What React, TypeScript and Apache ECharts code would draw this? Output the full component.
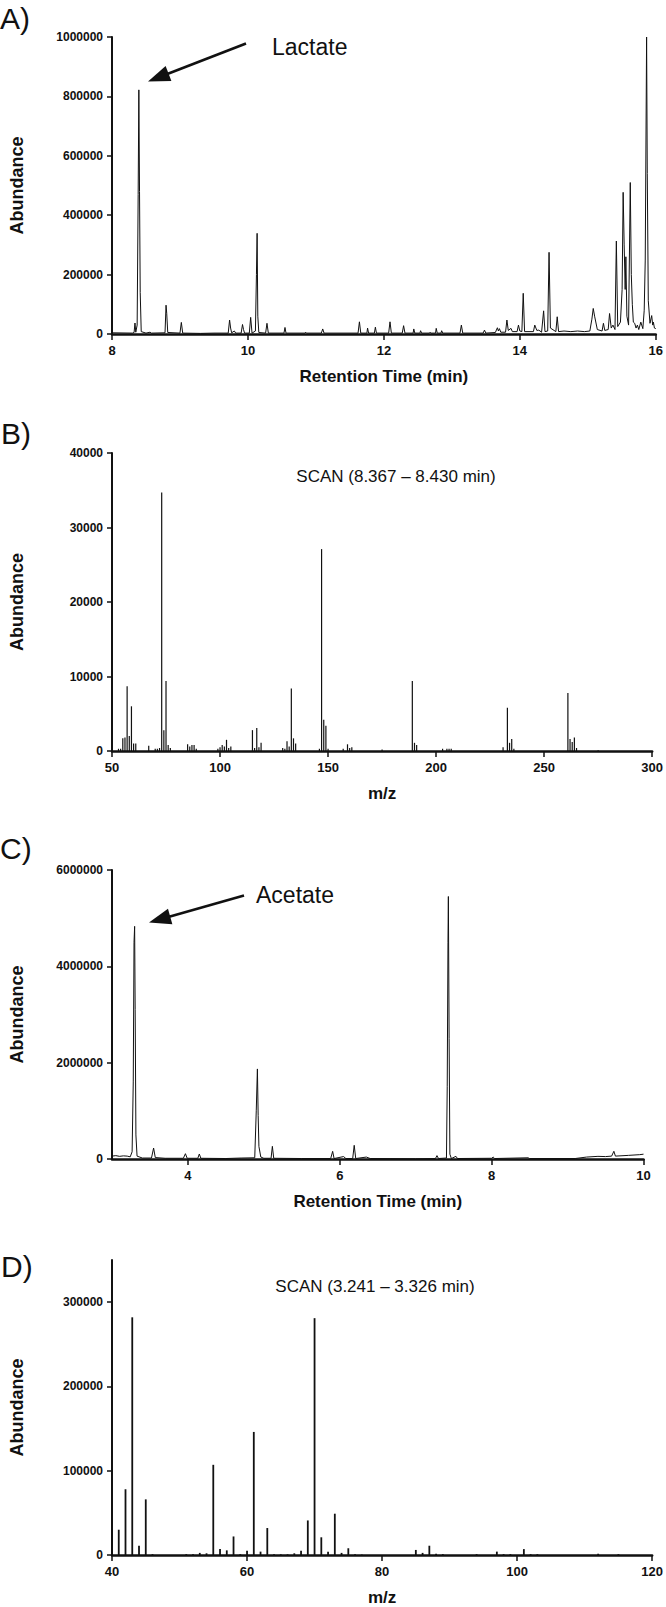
import React, { useEffect, useRef } from "react";
import * as echarts from "echarts";

// ---------- DATA ----------
// Panel A: total ion chromatogram (retention time min, abundance)
const chromA: [number, number][] = [
  [8.0, 4000], [8.3, 3000], [8.325, 5000], [8.338, 37000], [8.35, 6000], [8.37, 30000],
  [8.385, 470000], [8.395, 822000], [8.405, 480000], [8.415, 140000], [8.43, 8000],
  [8.5, 3000], [8.56, 6000], [8.58, 3000], [8.78, 4000], [8.795, 97000], [8.805, 70000],
  [8.82, 5000], [9.0, 3000], [9.02, 39000], [9.04, 3000], [9.3, 2000], [9.5, 3000],
  [9.71, 3000], [9.73, 47000], [9.745, 20000], [9.76, 4000], [9.8, 10000], [9.82, 3000],
  [9.9, 3000], [9.92, 32000], [9.935, 15000], [9.95, 3000], [10.02, 3000], [10.04, 56000],
  [10.06, 3000], [10.11, 10000], [10.125, 200000], [10.135, 339000], [10.145, 60000],
  [10.16, 5000], [10.26, 3000], [10.28, 36000], [10.3, 3000], [10.53, 3000], [10.545, 22000],
  [10.56, 3000], [10.84, 3000], [10.85, 6000], [10.86, 3000], [11.08, 3000], [11.1, 17000],
  [11.12, 3000], [11.62, 3000], [11.64, 41000], [11.66, 3000], [11.75, 3000], [11.76, 20000],
  [11.775, 3000], [11.86, 3000], [11.875, 23000], [11.89, 3000], [12.07, 3000], [12.09, 41000],
  [12.11, 3000], [12.27, 3000], [12.29, 28000], [12.31, 3000], [12.43, 3000], [12.44, 17000],
  [12.455, 3000], [12.53, 3000], [12.54, 11000], [12.555, 3000], [12.67, 3000], [12.68, 6000],
  [12.69, 3000], [12.76, 3000], [12.77, 19000], [12.785, 3000], [12.84, 3000], [12.85, 11000],
  [12.865, 3000], [13.12, 3000], [13.14, 30000], [13.16, 3000], [13.46, 3000], [13.48, 13000],
  [13.5, 3000], [13.64, 5000], [13.67, 21000], [13.685, 10000], [13.7, 18000], [13.72, 6000],
  [13.79, 6000], [13.81, 47000], [13.83, 12000], [13.87, 19000], [13.89, 8000], [13.96, 8000],
  [13.98, 30000], [14.0, 10000], [14.03, 8000], [14.05, 137000], [14.07, 8000], [14.2, 8000],
  [14.22, 30000], [14.25, 12000], [14.28, 13000], [14.32, 6000], [14.35, 78000], [14.37, 8000],
  [14.41, 10000], [14.43, 275000], [14.45, 20000], [14.53, 8000], [14.55, 58000], [14.57, 8000],
  [14.65, 10000], [14.75, 8000], [14.85, 10000], [14.95, 8000], [15.03, 10000], [15.06, 50000],
  [15.08, 86000], [15.1, 60000], [15.14, 15000], [15.21, 10000], [15.23, 36000], [15.25, 12000],
  [15.3, 15000], [15.32, 69000], [15.345, 20000], [15.37, 30000], [15.4, 15000], [15.42, 313000],
  [15.44, 25000], [15.48, 40000], [15.505, 150000], [15.52, 477000], [15.535, 300000],
  [15.55, 150000], [15.56, 260000], [15.575, 60000], [15.6, 30000], [15.625, 510000],
  [15.64, 200000], [15.655, 100000], [15.67, 40000], [15.69, 36000], [15.71, 20000],
  [15.73, 30000], [15.75, 15000], [15.78, 40000], [15.81, 18000], [15.83, 80000],
  [15.845, 249000], [15.865, 1000000], [15.875, 540000], [15.89, 112000], [15.915, 36000],
  [15.94, 62000], [15.955, 30000], [15.965, 40000], [15.98, 20000], [16.0, 18000],
];

// Panel B: mass spectrum SCAN (8.367 – 8.430 min) (m/z, abundance)
const specB: [number, number][] = [
  [53, 300], [54, 300], [55, 1700], [56, 1800], [57, 8700], [58, 2000], [59, 6000], [60, 1000],
  [61, 1000], [67, 700], [70, 300], [71, 300], [72, 400], [73, 34700], [74, 2800], [75, 9400],
  [76, 800], [77, 400], [85, 900], [86, 600], [87, 800], [88, 800], [89, 300], [99, 300],
  [100, 500], [101, 800], [102, 600], [103, 1500], [104, 400], [105, 600], [115, 2800],
  [116, 400], [117, 3100], [118, 500], [119, 1100], [129, 400], [130, 300], [131, 1300],
  [132, 600], [133, 8400], [134, 1700], [135, 1000], [146, 300], [147, 27100], [148, 4200],
  [149, 3400], [150, 300], [157, 300], [159, 900], [160, 400], [161, 500], [175, 200],
  [189, 9400], [190, 1100], [191, 800], [203, 300], [205, 300], [206, 300], [207, 300],
  [231, 500], [233, 5800], [234, 1100], [235, 1600], [236, 300], [261, 7800], [262, 1600],
  [263, 1200], [264, 1800], [265, 400], [275, 100],
];

// Panel C: total ion chromatogram (retention time min, abundance)
const chromC: [number, number][] = [
  [3.0, 60000], [3.05, 70000], [3.1, 55000], [3.15, 65000], [3.2, 60000], [3.24, 45000],
  [3.265, 150000], [3.28, 1600000], [3.29, 4500000], [3.298, 4830000], [3.305, 3100000],
  [3.315, 500000], [3.33, 60000], [3.4, 20000], [3.52, 20000], [3.548, 228000], [3.57, 30000],
  [3.7, 15000], [3.94, 15000], [3.967, 110000], [3.99, 15000], [4.13, 15000], [4.15, 104000],
  [4.17, 15000], [4.5, 10000], [4.7, 20000], [4.88, 25000], [4.9, 1000000], [4.915, 1870000],
  [4.925, 900000], [4.935, 260000], [4.96, 40000], [5.0, 15000], [5.095, 15000], [5.112, 263000],
  [5.13, 15000], [5.5, 10000], [5.88, 10000], [5.906, 159000], [5.925, 10000], [6.05, 50000],
  [6.08, 10000], [6.17, 10000], [6.19, 284000], [6.21, 10000], [6.35, 40000], [6.4, 10000],
  [7.0, 5000], [7.26, 10000], [7.28, 70000], [7.3, 10000], [7.405, 20000], [7.415, 1500000],
  [7.425, 4500000], [7.43, 5450000], [7.44, 2500000], [7.45, 100000], [7.47, 10000],
  [7.53, 55000], [7.55, 10000], [8.0, 15000], [8.02, 40000], [8.04, 10000], [8.48, 25000],
  [8.5, 10000], [9.1, 10000], [9.25, 40000], [9.4, 55000], [9.5, 50000], [9.58, 60000],
  [9.61, 160000], [9.63, 60000], [9.8, 75000], [9.95, 90000], [10.0, 100000],
];

// Panel D: mass spectrum SCAN (3.241 – 3.326 min) (m/z, abundance)
const specD: [number, number][] = [
  [41, 30000], [42, 78000], [43, 282000], [44, 11000], [45, 66000], [46, 1000], [51, 1000],
  [52, 1000], [53, 2500], [54, 2000], [55, 107000], [56, 7000], [57, 5500], [58, 22000],
  [59, 1000], [60, 5000], [61, 146000], [62, 4000], [63, 32000], [64, 800], [65, 800],
  [66, 800], [67, 2000], [68, 5000], [69, 41000], [70, 281000], [71, 21000], [72, 4000],
  [73, 49000], [74, 2500], [75, 8000], [76, 1000], [77, 500], [85, 6000], [86, 2500],
  [87, 11000], [88, 1500], [89, 1000], [94, 1000], [97, 4000], [98, 1000], [99, 1000],
  [101, 7000], [102, 1000], [103, 1000], [112, 1500], [115, 1000],
];

// Tick values
const xTicksC = [4, 6, 8, 10];
const yTicksD = [0, 100000, 200000, 300000];

const panelLabels = ["A)", "B)", "C)", "D)"];
const annotations = ["Lactate", "SCAN (8.367 \u2013 8.430 min)", "Acetate", "SCAN (3.241 \u2013 3.326 min)"];
const yTitle = "Abundance";
const xTitles = ["Retention Time (min)", "m/z", "Retention Time (min)", "m/z"];

// ---------- STYLE ----------
const FONT = "'Liberation Sans', Arial, Helvetica, sans-serif";
const INK = "#111";
const plain = (v: number) => String(v);

function yAxisCfg(gridIndex: number, max: number, interval: number, custom?: number[]) {
  const cfg: any = {
    type: "value",
    gridIndex,
    min: 0,
    max,
    interval,
    name: yTitle,
    nameLocation: "middle",
    nameGap: 86,
    nameTextStyle: { fontFamily: FONT, fontWeight: "bold", fontSize: 18, color: INK },
    axisLine: { show: true, lineStyle: { color: INK, width: 2 } },
    axisTick: { show: true, length: 5, lineStyle: { color: INK, width: 1.5 } },
    axisLabel: { fontFamily: FONT, fontWeight: "bold", fontSize: 12, color: INK, margin: 9, formatter: plain },
    splitLine: { show: false },
  };
  if (custom) {
    cfg.axisLabel.customValues = custom;
    cfg.axisTick.customValues = custom;
    delete cfg.interval;
  }
  return cfg;
}

function xAxisCfg(gridIndex: number, min: number, max: number, interval: number | null, name: string, custom?: number[]) {
  const cfg: any = {
    type: "value",
    gridIndex,
    min,
    max,
    name,
    nameLocation: "middle",
    nameGap: 34,
    nameTextStyle: { fontFamily: FONT, fontWeight: "bold", fontSize: 17, color: INK },
    axisLine: { show: true, onZero: false, lineStyle: { color: INK, width: 2.5 } },
    axisTick: { show: true, length: 6, lineStyle: { color: INK, width: 1.5 } },
    axisLabel: { fontFamily: FONT, fontWeight: "bold", fontSize: 13, color: INK, margin: 10, formatter: plain },
    splitLine: { show: false },
  };
  if (interval !== null) cfg.interval = interval;
  if (custom) {
    cfg.axisLabel.customValues = custom;
    cfg.axisTick.customValues = custom;
  }
  return cfg;
}

function arrow(x1: number, y1: number, tipX: number, tipY: number, headLen: number, headHalf: number) {
  const dx = tipX - x1;
  const dy = tipY - y1;
  const L = Math.sqrt(dx * dx + dy * dy);
  const ux = dx / L;
  const uy = dy / L;
  const bx = tipX - headLen * ux;
  const by = tipY - headLen * uy;
  const nx = -uy;
  const ny = ux;
  return [
    {
      type: "line",
      shape: { x1, y1, x2: bx + ux * 2, y2: by + uy * 2 },
      style: { stroke: INK, lineWidth: 2.6 },
    },
    {
      type: "polygon",
      shape: {
        points: [
          [tipX, tipY],
          [bx + nx * headHalf, by + ny * headHalf],
          [bx - nx * headHalf, by - ny * headHalf],
        ],
      },
      style: { fill: INK },
    },
  ];
}

export default function App() {
  const ref = useRef<HTMLDivElement>(null);

  useEffect(() => {
    document.body.style.margin = "0";
    const chart = echarts.init(ref.current!, null, { renderer: "svg" });

    const grids = [
      { left: 108, top: 37, width: 548, height: 297 },
      { left: 108, top: 453, width: 548, height: 298 },
      { left: 105.5, top: 870, width: 538, height: 289 },
      { left: 108, top: 1260, width: 548, height: 298 },
    ];

    const labelStyle = (text: string, x: number, y: number, size: number) => ({
      type: "text",
      x,
      y,
      style: { text, fontFamily: FONT, fontSize: size, fill: INK, textVerticalAlign: "middle", textAlign: "left" },
    });
    const centerText = (text: string, x: number, y: number, size: number) => ({
      type: "text",
      x,
      y,
      style: { text, fontFamily: FONT, fontSize: size, fill: INK, textVerticalAlign: "middle", textAlign: "center" },
    });

    const option: any = {
      animation: false,
      backgroundColor: "#fff",
      grid: grids,
      xAxis: [
        xAxisCfg(0, 8, 16, 2, xTitles[0]),
        xAxisCfg(1, 50, 300, 50, xTitles[1]),
        xAxisCfg(2, 3, 10, null, xTitles[2], xTicksC),
        xAxisCfg(3, 40, 120, 20, xTitles[3]),
      ],
      yAxis: [
        yAxisCfg(0, 1000000, 200000),
        yAxisCfg(1, 40000, 10000),
        yAxisCfg(2, 6000000, 2000000),
        yAxisCfg(3, 350000, 100000, yTicksD),
      ],
      series: [
        {
          type: "line",
          xAxisIndex: 0,
          yAxisIndex: 0,
          data: chromA,
          showSymbol: false,
          symbol: "none",
          lineStyle: { color: INK, width: 1 },
        },
        {
          type: "bar",
          xAxisIndex: 1,
          yAxisIndex: 1,
          data: specB,
          barWidth: 1.2,
          itemStyle: { color: INK },
        },
        {
          type: "line",
          xAxisIndex: 2,
          yAxisIndex: 2,
          data: chromC,
          showSymbol: false,
          symbol: "none",
          lineStyle: { color: INK, width: 1 },
        },
        {
          type: "bar",
          xAxisIndex: 3,
          yAxisIndex: 3,
          data: specD,
          barWidth: 1.8,
          itemStyle: { color: INK },
        },
      ],
      graphic: [
        labelStyle(panelLabels[0], 0, 18, 30),
        labelStyle(panelLabels[1], 1, 433, 30),
        labelStyle(panelLabels[2], 0, 848, 30),
        labelStyle(panelLabels[3], 1, 1266, 30),
        labelStyle(annotations[0], 272, 47, 23),
        centerText(annotations[1], 396, 476, 17),
        labelStyle(annotations[2], 256, 895, 23),
        centerText(annotations[3], 375, 1286, 17),
        ...arrow(246, 43.5, 148, 81.5, 22, 8),
        ...arrow(244, 895.5, 149, 922.5, 22, 8),
      ],
    };

    chart.setOption(option);
    return () => chart.dispose();
  }, []);

  return (
    <div
      ref={ref}
      style={{ position: "absolute", left: 0, top: 0, width: 666, height: 1607, background: "#fff" }}
    />
  );
}
